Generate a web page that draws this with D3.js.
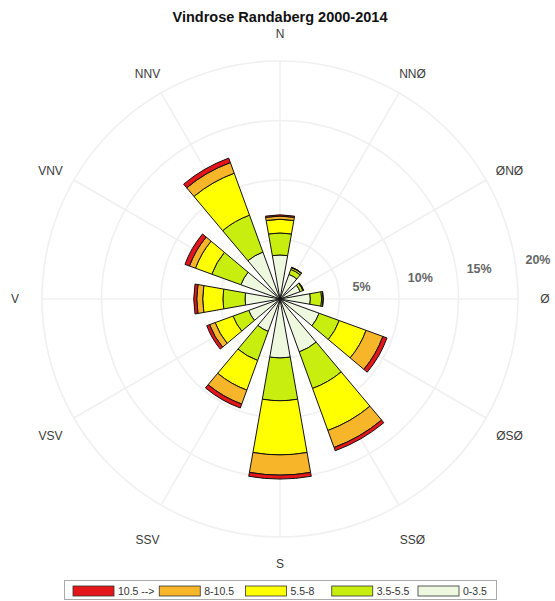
<!DOCTYPE html>
<html>
<head>
<meta charset="utf-8">
<script src="https://cdn.jsdelivr.net/npm/d3@7/dist/d3.min.js"></script>
<style>
  html, body { margin: 0; padding: 0; background: #fff; }
  svg { display: block; font-family: "Liberation Sans", Arial, sans-serif; }
</style>
</head>
<body>
<svg id="chart" width="555" height="601"></svg>
<script>
// Wind directions (degrees from north, clockwise) and their compass labels
const directionAngles = [0, 30, 60, 90, 120, 150, 180, 210, 240, 270, 300, 330];
const directionLabels = ["N", "NNØ", "ØNØ", "Ø", "ØSØ", "SSØ", "S", "SSV", "VSV", "V", "VNV", "NNV"];

// Wind speed classes (m/s), innermost first
const speedClasses = ["0-3.5", "3.5-5.5", "5.5-8", "8-10.5", "10.5 -->"];

// Frequency (%) of each speed class per direction
const freq_0_35   = [3.70, 2.20, 1.80, 2.55, 3.50, 4.73, 4.96, 2.90, 2.80, 2.94, 3.50, 4.20];
const freq_35_55  = [1.85, 0.45, 0.25, 0.95, 1.80, 3.27, 3.59, 2.60, 1.40, 1.86, 2.60, 3.30];
const freq_55_8   = [1.15, 0.15, 0.05, 0.12, 2.40, 3.76, 4.55, 2.65, 1.60, 1.70, 1.46, 3.75];
const freq_8_105  = [0.27, 0.03, 0.01, 0.02, 1.50, 1.52, 1.70, 1.25, 0.50, 0.50, 0.54, 0.95];
const freq_105    = [0.10, 0.01, 0.00, 0.00, 0.37, 0.29, 0.33, 0.35, 0.25, 0.25, 0.40, 0.40];

// Radial ring ticks (%)
const ringTicks = [5, 10, 15, 20];
const ringLabels = ["5%", "10%", "15%", "20%"];

const classColors = ["#eef8df", "#c8ee10", "#ffff00", "#f7b52a", "#e4161a"];

const series = [freq_0_35, freq_35_55, freq_55_8, freq_8_105, freq_105];

const svg = d3.select("#chart");
const cx = 280, cy = 299;
const rScale = d3.scaleLinear().domain([0, 20]).range([0, 238]);
const toRad = d => d * Math.PI / 180;

// Title
svg.append("text")
  .attr("x", 280).attr("y", 22)
  .attr("text-anchor", "middle")
  .attr("font-size", 14.5).attr("font-weight", "bold")
  .attr("fill", "#111")
  .text("Vindrose Randaberg 2000-2014");

const g = svg.append("g").attr("transform", `translate(${cx},${cy})`);

// Polar grid: rings and spokes
g.append("g").selectAll("circle").data(ringTicks).join("circle")
  .attr("r", d => rScale(d))
  .attr("fill", "none").attr("stroke", "#f0f0f0").attr("stroke-width", 1.6);

g.append("g").selectAll("line").data(directionAngles).join("line")
  .attr("x1", 0).attr("y1", 0)
  .attr("x2", d => rScale(20) * Math.sin(toRad(d)))
  .attr("y2", d => -rScale(20) * Math.cos(toRad(d)))
  .attr("stroke", "#f0f0f0").attr("stroke-width", 1.6);

// Stack the speed classes per direction
const stackData = directionAngles.map((a, i) => {
  let acc = 0;
  return series.map((s, k) => {
    const r0 = acc; acc += s[i];
    return { angle: a, k, r0, r1: acc };
  });
}).flat();

const halfWidth = 10; // degrees
const arc = d3.arc()
  .innerRadius(d => rScale(d.r0))
  .outerRadius(d => rScale(d.r1))
  .startAngle(d => toRad(d.angle - halfWidth))
  .endAngle(d => toRad(d.angle + halfWidth));

g.append("g").selectAll("path").data(stackData.filter(d => d.r1 > d.r0)).join("path")
  .attr("d", arc)
  .attr("fill", d => classColors[d.k])
  .attr("stroke", "#111").attr("stroke-width", 1)
  .attr("stroke-linejoin", "round");

// Direction labels (diagonal ones sit slightly lower, more so near the bottom)
const labelR = 265;
const yNudge = a => a % 90 === 0 ? 0 : (Math.cos(toRad(a)) < -0.8 ? 12 : 4.5);
g.append("g").selectAll("text").data(directionAngles).join("text")
  .attr("x", d => labelR * Math.sin(toRad(d)))
  .attr("y", d => -labelR * Math.cos(toRad(d)) + yNudge(d))
  .attr("text-anchor", "middle")
  .attr("dominant-baseline", "central")
  .attr("font-size", 12).attr("fill", "#3a3a3a")
  .text((d, i) => directionLabels[i]);

// Ring value labels
const labelAngle = toRad(81.3);
g.append("g").selectAll("text").data(ringTicks).join("text")
  .attr("x", d => (rScale(d) + 23) * Math.sin(labelAngle))
  .attr("y", d => -(rScale(d) + 23) * Math.cos(labelAngle))
  .attr("text-anchor", "middle")
  .attr("dominant-baseline", "central")
  .attr("font-size", 12.5).attr("font-weight", "bold").attr("fill", "#666")
  .text((d, i) => ringLabels[i]);

// Legend
const legend = svg.append("g");
legend.append("rect")
  .attr("x", 64.5).attr("y", 580.5).attr("width", 432).attr("height", 19)
  .attr("fill", "#fff").attr("stroke", "#aaa").attr("stroke-width", 1);

const legendOrder = [4, 3, 2, 1, 0];
const legendX = d3.scalePoint().domain(legendOrder).range([73, 418]);
const items = legend.selectAll("g.item").data(legendOrder).join("g")
  .attr("class", "item")
  .attr("transform", d => `translate(${legendX(d)},586)`);
items.append("rect")
  .attr("width", 41).attr("height", 10)
  .attr("fill", d => classColors[d])
  .attr("stroke", "#333").attr("stroke-width", 0.8);
items.append("text")
  .attr("x", 45).attr("y", 5)
  .attr("dominant-baseline", "central")
  .attr("font-size", 10.5).attr("fill", "#333")
  .text(d => speedClasses[d]);
</script>
</body>
</html>
